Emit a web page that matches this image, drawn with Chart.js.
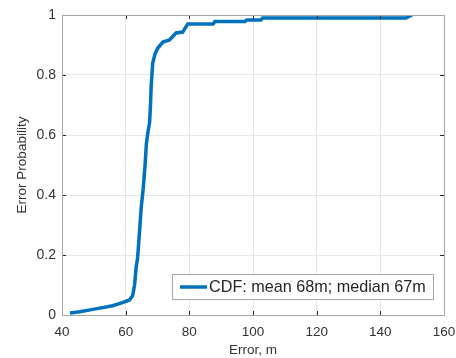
<!DOCTYPE html>
<html>
<head>
<meta charset="utf-8">
<script src="https://cdn.jsdelivr.net/npm/chart.js@4"></script>
<style>
  html, body { margin: 0; padding: 0; background: #fff; }
  #wrap { width: 456px; height: 358px; }
</style>
</head>
<body>
<div id="wrap"><canvas id="cdf"></canvas></div>
<script>
const errorM = [42.5, 45.6, 48.8, 51.9, 55.9, 59, 61.2, 62.2, 62.8, 63.3, 63.75, 64.3, 64.9, 65.5, 66.1, 66.5, 67, 67.5, 67.8, 68, 68.5, 69.2, 70.1, 71.7, 73.75, 75.8, 77.9, 79.5, 87.5, 88, 97.5, 98, 102.5, 103, 148, 150];
const probability = [0.007, 0.011, 0.017, 0.023, 0.031, 0.041, 0.05, 0.065, 0.1, 0.16, 0.19, 0.27, 0.36, 0.42, 0.5, 0.57, 0.61, 0.64, 0.7, 0.76, 0.84, 0.87, 0.89, 0.91, 0.917, 0.94, 0.943, 0.97, 0.97, 0.978, 0.978, 0.983, 0.983, 0.99, 0.99, 1.0];
const xTicks = [40, 60, 80, 100, 120, 140, 160];
const yTicks = [0, 0.2, 0.4, 0.6, 0.8, 1];
const legendText = 'CDF: mean 68m; median 67m';

const blue = '#0072BD';
const font = 'Liberation Sans, Arial, sans-serif';

// matlab style box, inward ticks and legend inside the axes
const matlabAxes = {
  id: 'matlabAxes',
  afterDraw(chart) {
    const ctx = chart.ctx;
    const a = chart.chartArea;
    const xs = chart.scales.x, ys = chart.scales.y;
    ctx.save();
    ctx.strokeStyle = '#262626';
    ctx.lineWidth = 1;
    ctx.beginPath();
    xTicks.forEach(v => {
      const px = Math.round(xs.getPixelForValue(v)) + 0.5;
      ctx.moveTo(px, a.bottom); ctx.lineTo(px, a.bottom - 4);
      ctx.moveTo(px, a.top); ctx.lineTo(px, a.top + 4);
    });
    yTicks.forEach(v => {
      const py = Math.round(ys.getPixelForValue(v)) + 0.5;
      ctx.moveTo(a.left, py); ctx.lineTo(a.left + 4, py);
      ctx.moveTo(a.right, py); ctx.lineTo(a.right - 4, py);
    });
    ctx.stroke();
    ctx.strokeStyle = '#a6a6a6';
    ctx.strokeRect(Math.round(a.left) + 0.5, Math.round(a.top) + 0.5, Math.round(a.right - a.left), Math.round(a.bottom - a.top));

    // legend
    const bx = 172, by = 274, bw = 261, bh = 25;
    ctx.fillStyle = '#fff';
    ctx.fillRect(bx, by, bw, bh);
    ctx.strokeStyle = '#a6a6a6';
    ctx.strokeRect(bx + 0.5, by + 0.5, bw, bh);
    ctx.strokeStyle = blue;
    ctx.lineWidth = 3.5;
    ctx.beginPath();
    ctx.moveTo(bx + 8, by + bh / 2 + 0.5);
    ctx.lineTo(bx + 35, by + bh / 2 + 0.5);
    ctx.stroke();
    ctx.fillStyle = '#262626';
    ctx.font = '16.2px ' + font;
    ctx.textBaseline = 'middle';
    ctx.fillText(legendText, bx + 37, by + bh / 2 + 1);
    ctx.restore();
  }
};

new Chart(document.getElementById('cdf'), {
  type: 'scatter',
  data: {
    datasets: [{
      label: legendText,
      data: errorM.map((x, i) => ({ x: x, y: probability[i] })),
      showLine: true,
      borderColor: blue,
      borderWidth: 3.5,
      pointRadius: 0,
      tension: 0
    }]
  },
  options: {
    responsive: true,
    maintainAspectRatio: false,
    animation: false,
    layout: { padding: { top: 15, right: 0, left: 0, bottom: 0 } },
    plugins: { legend: { display: false }, tooltip: { enabled: false } },
    scales: {
      x: {
        type: 'linear', min: 40, max: 160,
        afterBuildTicks: s => { s.ticks = xTicks.map(v => ({ value: v })); },
        afterFit: s => { s.height = 43; s.paddingRight = 12; },
        grid: { color: '#e6e6e6', drawTicks: false },
        border: { display: false },
        ticks: { color: '#333', font: { family: font, size: 13.5 }, padding: 9, maxRotation: 0 },
        title: { display: true, text: 'Error, m', color: '#333', font: { family: font, size: 13.5 }, padding: { top: 0, bottom: 0 } }
      },
      y: {
        type: 'linear', min: 0, max: 1,
        afterBuildTicks: s => { s.ticks = yTicks.map(v => ({ value: v })); },
        afterFit: s => { s.width = 62; },
        grid: { color: '#e6e6e6', drawTicks: false },
        border: { display: false },
        ticks: { color: '#333', font: { family: font, size: 14 }, padding: 6, callback: v => String(Math.round(v * 10) / 10) },
        title: { display: true, text: 'Error Probability', color: '#333', font: { family: font, size: 13.5 }, padding: { top: 14, bottom: 0 } }
      }
    }
  },
  plugins: [matlabAxes]
});
</script>
</body>
</html>
